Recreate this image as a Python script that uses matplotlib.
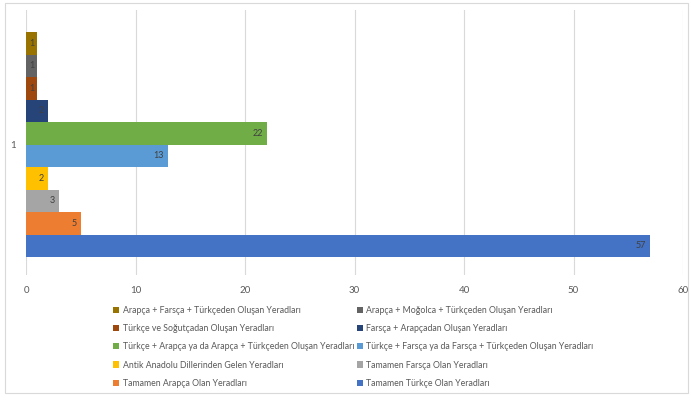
import matplotlib
matplotlib.use("Agg")
import matplotlib.pyplot as plt
from matplotlib.patches import Patch, Rectangle

plt.rcParams['font.family'] = ['Lato', 'DejaVu Sans']

# Series (Excel order: first series drawn at bottom)
series_names = [
    "Tamamen Türkçe Olan Yeradları",
    "Tamamen Arapça Olan Yeradları",
    "Tamamen Farsça Olan Yeradları",
    "Antik Anadolu Dillerinden Gelen Yeradları",
    "Türkçe + Farsça ya da Farsça + Türkçeden Oluşan Yeradları",
    "Türkçe + Arapça ya da Arapça + Türkçeden Oluşan Yeradları",
    "Farsça + Arapçadan Oluşan Yeradları",
    "Türkçe ve Soğutçadan Oluşan Yeradları",
    "Arapça + Moğolca + Türkçeden Oluşan Yeradları",
    "Arapça + Farsça + Türkçeden Oluşan Yeradları",
]
values = [57, 5, 3, 2, 13, 22, 2, 1, 1, 1]
colors = ["#4472C4", "#ED7D31", "#A5A5A5", "#FFC000", "#5B9BD5",
          "#70AD47", "#264478", "#9E480E", "#636363", "#997300"]
category = "1"
x_ticks = [0, 10, 20, 30, 40, 50, 60]

W, H = 691, 400
fig = plt.figure(figsize=(W / 100, H / 100), dpi=100)
fig.patches.append(Rectangle((5 / W, 1 - 393 / H), 683 / W, 390 / H,
                             transform=fig.transFigure, fill=False,
                             edgecolor="#D9D9D9", linewidth=0.8))

ax = fig.add_axes([26 / W, 1 - 275 / H, 657 / W, 265 / H])
ypos = list(range(len(values)))
bars = ax.barh(ypos, values, height=1.0, color=colors, edgecolor="none")
for yi, v in zip(ypos, values):
    if v == 1:
        ax.annotate(str(v), xy=(v / 2, yi), ha="center", va="center",
                    fontsize=6.5, color="#404040")
    else:
        ax.annotate(str(v), xy=(v, yi), xytext=(-3, 0), textcoords="offset points",
                    ha="right", va="center", fontsize=6.5, color="#404040")

ax.set_xlim(0, 60)
ax.set_ylim(-1.3, 10.48)
ax.set_xticks(x_ticks)
ax.set_xticklabels([str(t) for t in x_ticks])
ax.set_yticks([4.5])
ax.set_yticklabels([category])
ax.tick_params(axis="both", length=0, labelsize=7, colors="#595959")
ax.tick_params(axis="x", pad=8)
ax.tick_params(axis="y", pad=7)
ax.grid(axis="x", color="#D9D9D9", linewidth=0.8)
ax.set_axisbelow(True)
for s in ax.spines.values():
    s.set_visible(False)

# Legend: reversed order, 2 columns, row-wise fill
rev = list(range(len(values)))[::-1]
left = rev[0::2]
right = rev[1::2]
order = left + right
handles = [Patch(facecolor=colors[i], edgecolor="none") for i in order]
labels = [series_names[i] for i in order]
fig.legend(handles, labels, ncol=2, loc="upper left",
           bbox_to_anchor=(113 / W, 1 - 306 / H), frameon=False,
           fontsize=6.3, labelcolor="#595959", handlelength=0.7, handleheight=0.7,
           handletextpad=0.4, columnspacing=0.3, labelspacing=1.05,
           borderaxespad=0, borderpad=0)

fig.savefig("out.png", dpi=100)
